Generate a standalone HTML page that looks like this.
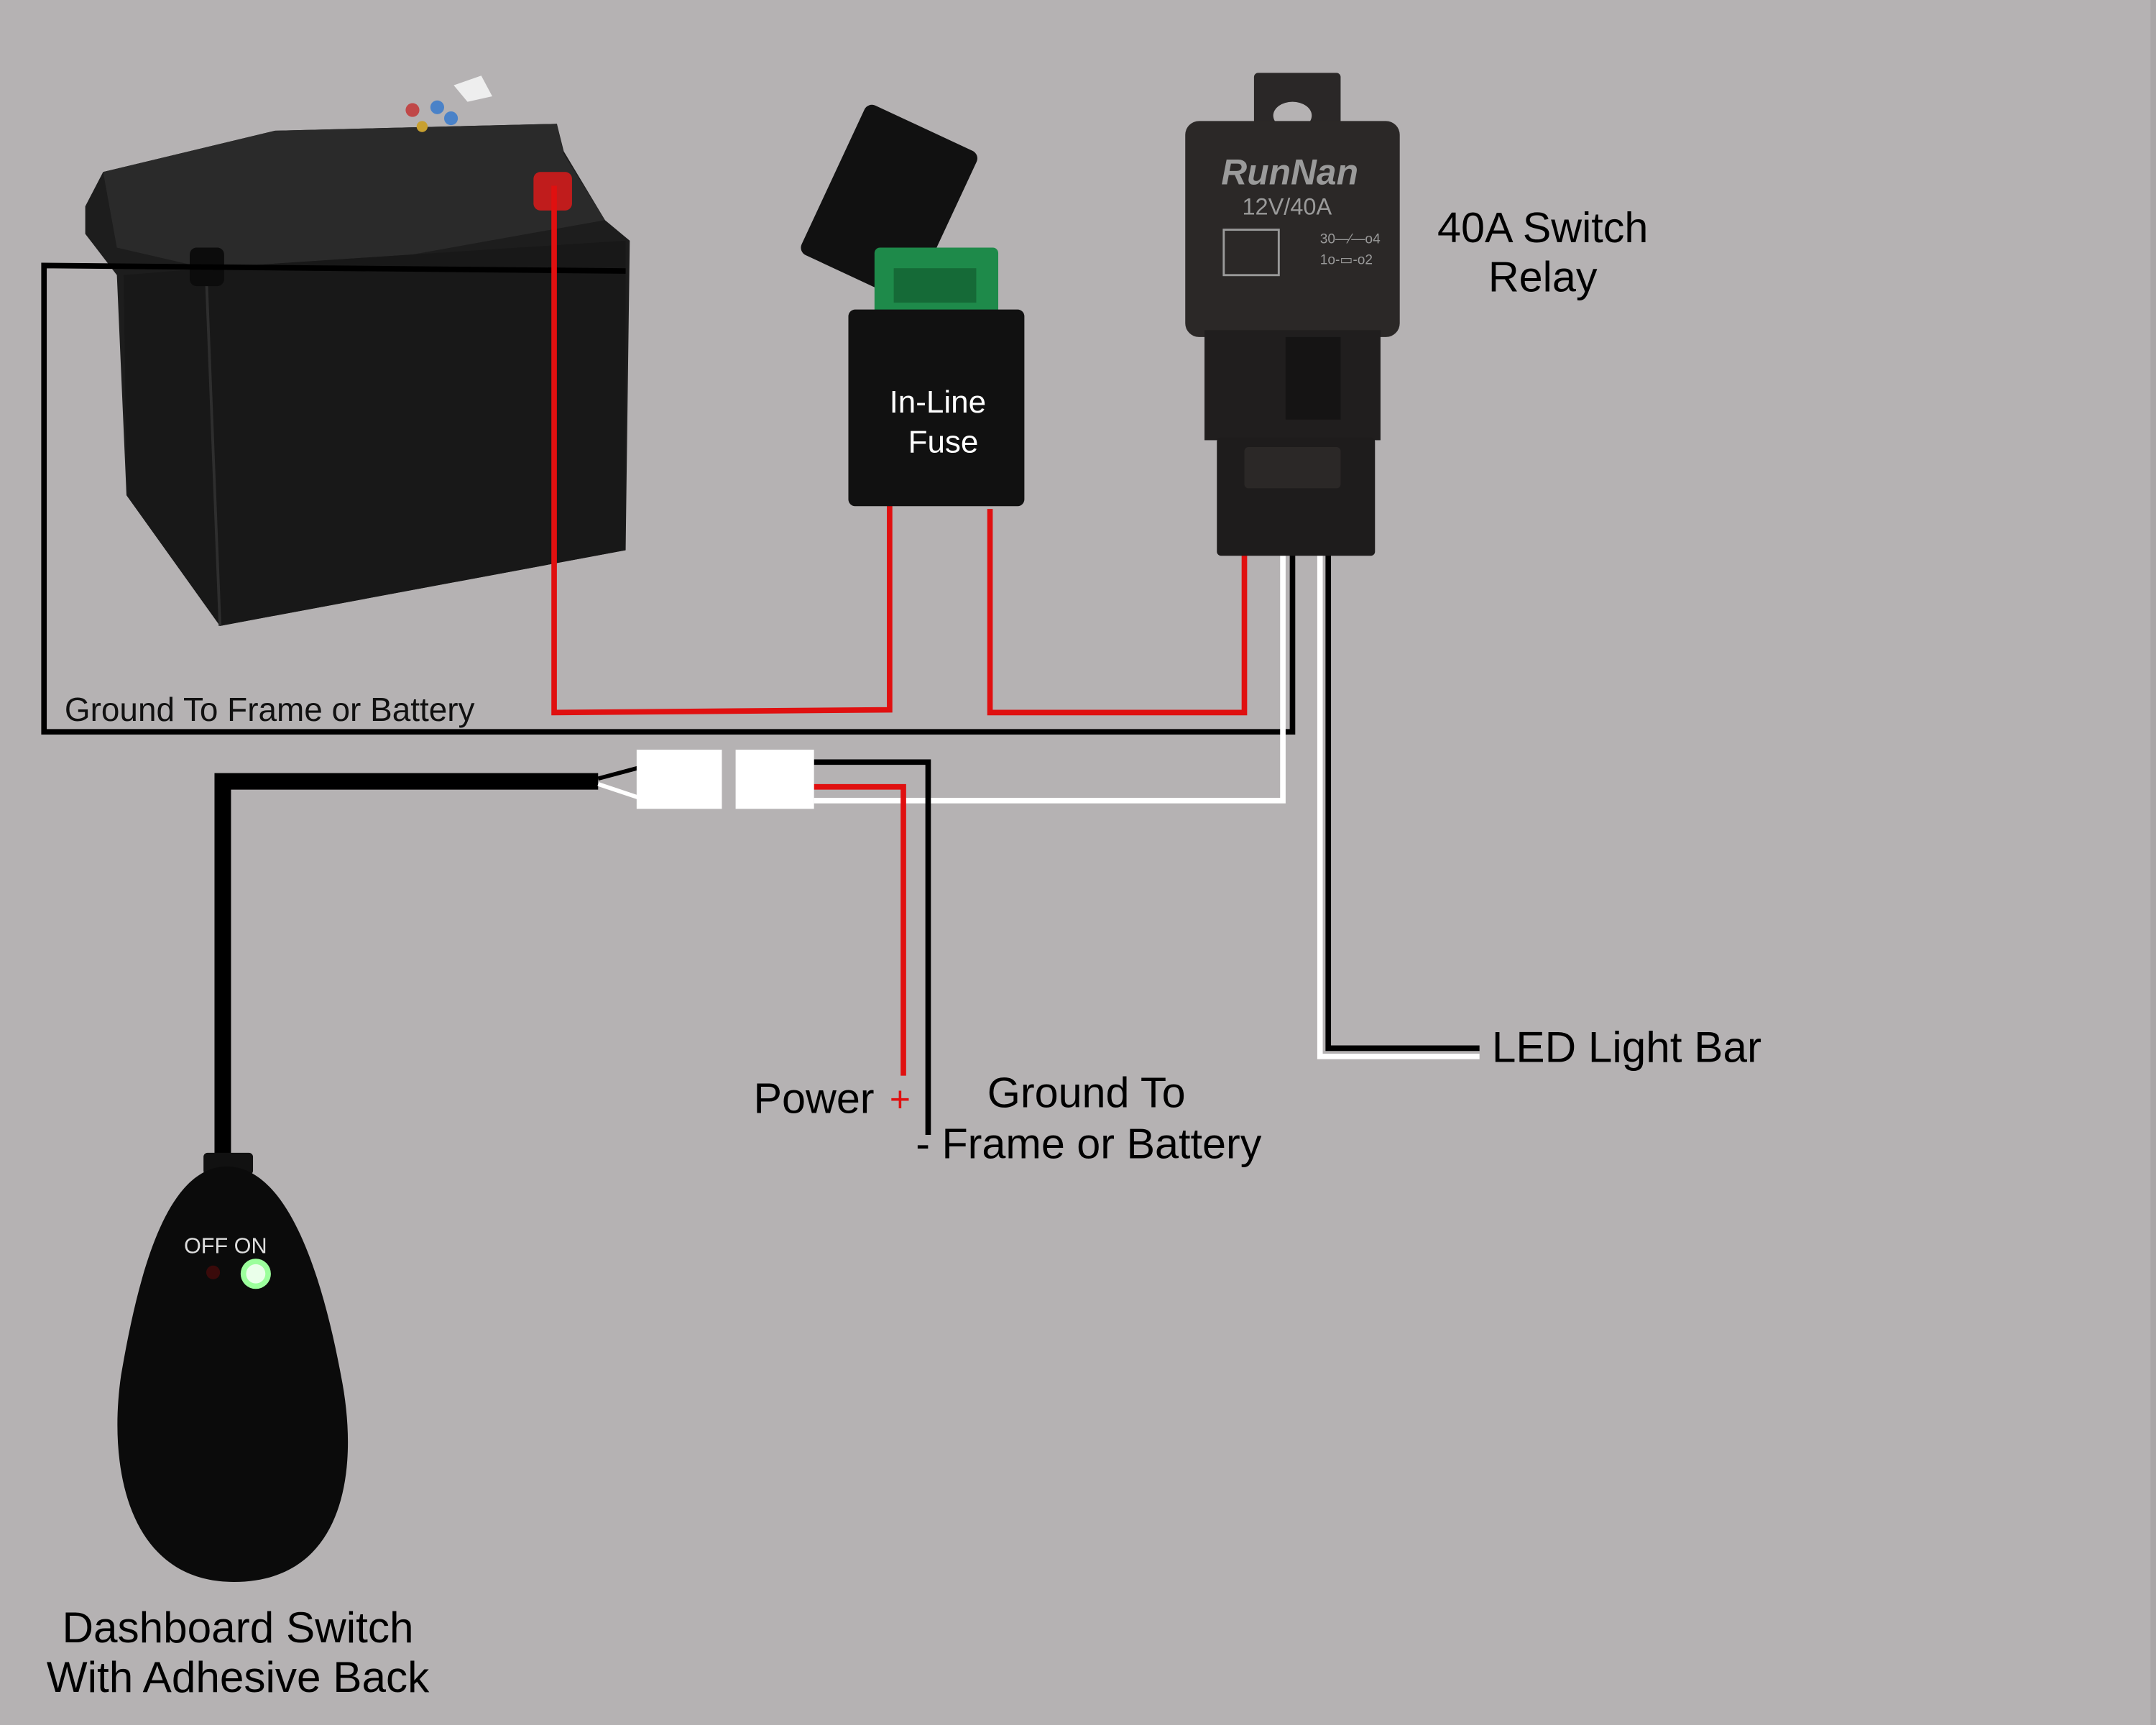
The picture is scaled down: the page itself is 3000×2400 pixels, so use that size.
<!DOCTYPE html>
<html><head><meta charset="utf-8"><style>
html,body{margin:0;padding:0;background:#b5b2b3;}
svg{display:block;}
text{font-family:"Liberation Sans",sans-serif;}
</style></head><body>
<svg width="3000" height="2400" viewBox="0 0 1568 1254" preserveAspectRatio="none" xmlns="http://www.w3.org/2000/svg">
<rect width="1568" height="1254" fill="#b5b2b3"/>
<rect x="1564" y="0" width="4" height="1254" fill="#a9a6a7"/>

<!-- Battery -->
<polygon points="62,150 75,125 200,95 405,90 410,110 440,160 458,175 455,400 160,455 92,360 85,200 62,170" fill="#1d1d1d"/>
<polygon points="75,125 200,95 405,90 410,112 440,160 300,185 150,195 85,180" fill="#2a2a2a"/>
<polygon points="90,200 150,195 300,185 455,175 455,400 160,455 92,360" fill="#181818"/>
<line x1="150" y1="200" x2="160" y2="455" stroke="#2e2e2e" stroke-width="2"/>
<rect x="138" y="180" width="25" height="28" rx="5" fill="#0c0c0c"/>
<rect x="388" y="125" width="28" height="28" rx="5" fill="#c01c1c"/>
<circle cx="300" cy="80" r="5" fill="#c04848"/><circle cx="318" cy="78" r="5" fill="#4a82c8"/><circle cx="328" cy="86" r="5" fill="#4a82c8"/><circle cx="307" cy="92" r="4" fill="#c8a030"/>
<polygon points="330,62 350,55 358,70 340,74" fill="#eeeeee"/>

<!-- Black ground wire -->
<polyline points="455,197 32,193 32,532 940,532 940,400" fill="none" stroke="#000" stroke-width="4"/>
<!-- Red wires -->
<polyline points="403,135 403,518 647,516 647,365" fill="none" stroke="#e01010" stroke-width="4"/>
<polyline points="720,370 720,518 905,518 905,400" fill="none" stroke="#e01010" stroke-width="4"/>
<!-- White wire -->
<polyline points="933,400 933,582 592,582" fill="none" stroke="#fff" stroke-width="4"/>
<!-- LED pair -->
<polyline points="960,400 960,768 1076,768" fill="none" stroke="#fff" stroke-width="4"/>
<polyline points="966,400 966,762 1076,762" fill="none" stroke="#000" stroke-width="4"/>

<!-- Fuse -->
<g transform="rotate(25 640 150)"><rect x="600" y="85" width="90" height="120" rx="6" fill="#111"/></g>
<rect x="636" y="180" width="90" height="50" rx="4" fill="#1e8a4a"/>
<rect x="650" y="195" width="60" height="25" fill="#156a37"/>
<rect x="617" y="225" width="128" height="143" rx="5" fill="#111"/>
<text x="682" y="300" font-size="23" fill="#fff" text-anchor="middle">In-Line</text>
<text x="686" y="329" font-size="23" fill="#fff" text-anchor="middle">Fuse</text>

<!-- Relay -->
<rect x="912" y="53" width="63" height="45" rx="3" fill="#2a2727"/>
<ellipse cx="940" cy="84" rx="14" ry="10" fill="#b5b2b3"/>
<rect x="862" y="88" width="156" height="157" rx="10" fill="#2b2827"/>
<rect x="876" y="240" width="128" height="80" fill="#201e1e"/>
<rect x="935" y="245" width="40" height="60" fill="#151414"/>
<rect x="885" y="318" width="115" height="86" rx="3" fill="#1e1c1c"/>
<rect x="905" y="325" width="70" height="30" rx="3" fill="#2b2827"/>
<text x="938" y="134" font-size="26" fill="#9a9a9a" text-anchor="middle" font-family="Liberation Serif,serif" font-style="italic" font-weight="bold">RunNan</text>
<text x="936" y="156" font-size="17" fill="#9a9a9a" text-anchor="middle">12V/40A</text>
<rect x="890" y="167" width="40" height="33" fill="none" stroke="#9a9a9a" stroke-width="1.5"/>
<text x="960" y="177" font-size="10" fill="#9a9a9a">30—⁄—o4</text>
<text x="960" y="192" font-size="10" fill="#9a9a9a">1o-▭-o2</text>

<!-- Connectors and switch wire -->
<polyline points="435,568 162,568 162,845" fill="none" stroke="#000" stroke-width="12"/>
<polyline points="592,554 675,554 675,825" fill="none" stroke="#000" stroke-width="4"/>
<polyline points="592,572 657,572 657,782" fill="none" stroke="#e01010" stroke-width="4"/>
<line x1="435" y1="566" x2="465" y2="558" stroke="#000" stroke-width="3"/>
<line x1="435" y1="570" x2="465" y2="580" stroke="#fff" stroke-width="3"/>
<rect x="463" y="545" width="62" height="43" fill="#fff"/>
<rect x="535" y="545" width="57" height="43" fill="#fff"/>

<!-- Dashboard switch -->
<rect x="148" y="838" width="36" height="16" rx="3" fill="#111"/>
<path d="M165,848 C210,848 235,930 248,1000 C262,1070 250,1150 170,1150 C95,1150 78,1070 88,1000 C100,930 120,848 165,848 Z" fill="#0b0b0b"/>
<text x="164" y="911" font-size="16" fill="#ddd" text-anchor="middle">OFF ON</text>
<circle cx="186" cy="926" r="11" fill="#9cff9c"/><circle cx="186" cy="926" r="7" fill="#eaffea"/>
<circle cx="155" cy="925" r="5" fill="#3a0a0a"/>

<!-- Labels -->
<text x="47" y="524" font-size="24" fill="#111">Ground To Frame or Battery</text>
<text x="1122" y="176" font-size="31" fill="#000" text-anchor="middle">40A Switch</text>
<text x="1122" y="212" font-size="31" fill="#000" text-anchor="middle">Relay</text>
<text x="1085" y="772" font-size="31.5" fill="#000">LED Light Bar</text>
<text x="548" y="809" font-size="31" fill="#000">Power</text>
<text x="647" y="808" font-size="26" fill="#e01010">+</text>
<text x="718" y="805" font-size="31" fill="#000">Ground To</text>
<text x="666" y="842" font-size="31" fill="#000">- Frame or Battery</text>
<text x="173" y="1194" font-size="31.5" fill="#000" text-anchor="middle">Dashboard Switch</text>
<text x="173" y="1230" font-size="31.5" fill="#000" text-anchor="middle">With Adhesive Back</text>
</svg>
</body></html>
